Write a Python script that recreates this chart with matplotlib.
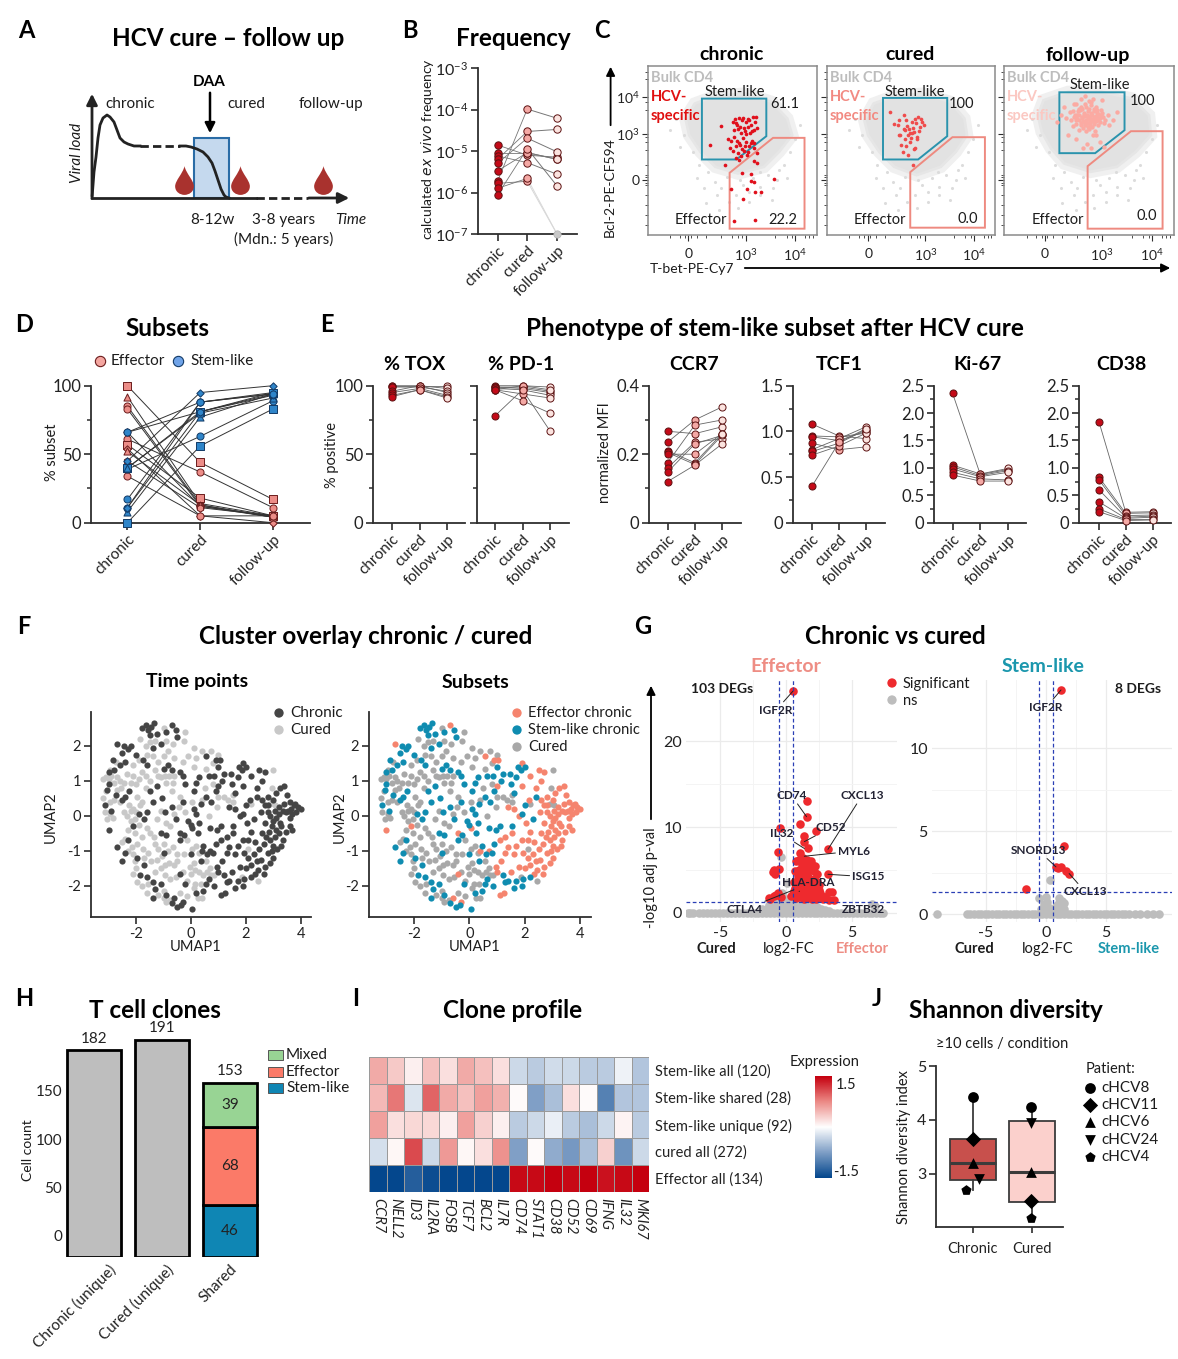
import numpy as np
import matplotlib
matplotlib.use('Agg')
import matplotlib.pyplot as plt
from matplotlib.colors import LinearSegmentedColormap
from matplotlib.patches import Polygon, Rectangle
from matplotlib.path import Path

plt.rcParams['font.family'] = ['Lato', 'DejaVu Sans']
plt.rcParams['mathtext.default'] = 'regular'
plt.rcParams['axes.unicode_minus'] = False

W, H = 1178, 1359
TITLE = 17.5
SUB = 15
DARK = '#2e2e2e'

# A - schematic, in time / load units of the sketch
load_x1 = [92, 93, 94, 96, 98, 100, 103, 107, 110, 114, 117, 120, 124, 128, 134, 140]
load_y1 = [198, 185, 172, 157, 138, 125, 118, 115, 117, 122, 130, 138, 142, 144, 146, 146]
load_x2 = [180, 186, 191, 197, 203, 208, 212, 215, 218, 221, 224, 226, 229]
load_y2 = [146, 146, 147, 149, 152, 157, 163, 171, 180, 189, 195, 197, 198]
drop_x = [184, 240, 323]

# B
freq_chronic = [-4.855, -5.04, -5.12, -5.2, -5.3, -5.48, -5.73, -5.78, -5.9, -6.06]
freq_cured = [-5.1, -5.04, -5.28, -4.53, -4.69, -5.04, -3.99, -5.73, -5.66, -4.94]
freq_followup = [-5.15, -5.2, -5.56, -4.48, -5.02, -5.2, -4.21, -7.0, -7.0, -5.84]

# C - flow plots, in instrument channels
stem_gates = [[(144, 410), (316, 410), (316, 297), (236, 227), (144, 227)],
              [(150, 412), (322, 412), (322, 297), (244, 227), (150, 227)],
              [(147, 429), (320, 429), (320, 315), (242, 246), (147, 246)]]
eff_gates = [[(218, 187), (334, 292), (418, 292), (418, 19), (218, 19)],
             [(223, 189), (336, 294), (423, 294), (423, 22), (223, 22)],
             [(222, 207), (337, 312), (421, 312), (421, 19), (222, 19)]]
clouds = [[(100, 350), (125, 395), (180, 418), (260, 425), (330, 400), (372, 350), (385, 300),
           (350, 250), (310, 205), (240, 185), (180, 205), (140, 250), (110, 300)],
          [(100, 345), (125, 395), (180, 418), (260, 425), (330, 400), (368, 350), (375, 300),
           (345, 250), (305, 205), (240, 180), (180, 205), (140, 250), (110, 300)],
          [(90, 360), (105, 405), (170, 430), (260, 430), (340, 410), (385, 360), (390, 300),
           (350, 250), (300, 205), (230, 190), (160, 215), (125, 260), (100, 310)]]
stray_x = [75, 95, 120, 135, 160, 178, 195, 210, 235, 255, 280, 300, 320, 345, 362, 378, 392, 405,
           130, 150, 185, 215, 245, 270, 300, 335, 350, 370, 155, 190, 240, 330, 270, 298, 60, 85]
stray_y = [350, 300, 250, 210, 190, 160, 140, 175, 120, 150, 170, 145, 180, 165, 210, 250, 290, 330,
           170, 140, 120, 100, 165, 130, 120, 140, 195, 170, 95, 75, 80, 105, 100, 190, 315, 265]
red1_x = [226, 232, 238, 244, 250, 256, 262, 268, 274, 280, 286, 292, 230, 240, 248, 258, 266, 272,
          282, 236, 246, 254, 262, 270, 278, 288, 196, 166, 214, 222, 230, 238, 246, 254, 262, 270,
          278, 284, 218, 226, 234, 242, 250, 258, 266, 274, 282, 240, 248, 256, 264, 236, 244,
          250, 276, 283, 291, 291, 336, 221, 264, 283, 276, 286, 301, 254, 231, 286, 206]
red1_y = [340, 348, 330, 352, 345, 322, 340, 350, 330, 356, 340, 322, 316, 320, 306, 314, 326, 308,
          316, 336, 326, 352, 305, 345, 312, 356, 327, 272, 290, 282, 296, 284, 272, 292, 280, 268,
          284, 276, 262, 252, 268, 276, 260, 268, 248, 276, 262, 246, 236, 252, 240, 232, 226,
          187, 183, 222, 245, 215, 168, 137, 137, 160, 163, 130, 130, 107, 43, 45, 210]
red2_x = [168, 180, 190, 196, 205, 212, 220, 228, 236, 244, 252, 260, 205, 214, 222, 230, 238, 246, 254,
          198, 208, 216, 226, 234, 242, 250, 192, 204, 212, 222, 232, 240, 218, 228, 236, 230, 194, 208]
red2_y = [370, 335, 330, 300, 360, 345, 320, 340, 350, 356, 348, 330, 320, 328, 308, 322, 336, 312, 340,
          272, 290, 300, 292, 310, 296, 325, 345, 250, 268, 280, 260, 290, 240, 308, 262, 210, 300, 315]
red3_x = [140, 160, 175, 185, 190, 195, 200, 205, 208, 212, 215, 218, 220, 222, 225, 228, 230, 232, 235,
          238, 240, 242, 245, 248, 250, 255, 258, 262, 268, 275, 165, 178, 188, 196, 204, 210, 216, 222, 228,
          234, 240, 246, 252, 258, 182, 190, 198, 206, 214, 220, 226, 232, 238, 244, 250, 200, 210, 218, 226,
          234, 242, 205, 215, 225, 235, 190, 220, 245, 170, 255, 280, 290, 260, 230, 190, 150, 210, 235, 265, 300,
          186, 194, 202, 212, 224, 236, 248, 260, 184, 192, 204, 214, 228, 240, 254, 266, 198, 208, 218, 230, 244]
red3_y = [340, 385, 370, 395, 345, 360, 380, 330, 352, 368, 395, 345, 360, 325, 380, 340, 362, 400, 350,
          372, 335, 355, 385, 345, 365, 340, 375, 355, 345, 360, 352, 345, 362, 372, 385, 342, 358, 372, 348,
          362, 350, 368, 352, 362, 328, 335, 345, 355, 330, 338, 355, 368, 340, 358, 330, 315, 322, 312, 318,
          325, 312, 408, 418, 402, 410, 290, 275, 300, 300, 280, 330, 345, 405, 262, 395, 360, 262, 300, 265, 370,
          354, 348, 376, 362, 350, 344, 376, 368, 372, 358, 338, 336, 332, 378, 352, 336, 362, 378, 386, 390, 342]
flow_pct_stem = ['61.1', '100', '100']
flow_pct_eff = ['22.2', '0.0', '0.0']

# D
subset_cats = ['chronic', 'cured', 'follow-up']
subset_markers = ['s', '^', 'o', 'o', 'D', 'o', 's', 'D', '^', 'h', 'o']
eff_chronic = [100, 92, 85, 83, 66, 61, 57, 54, 52, 45, 34]
eff_cured = [44, 14, 13, 12, 12, 37, 18, 5, 13, 11, 5]
eff_fu = [17, 5, 4, 4, 5, 11, 5, 0, 4, 5, 5]
stem_chronic = [0, 8, 11, 17, 11, 39, 40, 45, 40, 66, 66]
stem_cured = [56, 77, 81, 88, 88, 63, 81, 95, 80, 81, 88]
stem_fu = [83, 94, 94, 94, 95, 89, 95, 100, 91, 93, 94]

# E
tox_vals = [[100, 100, 100], [100, 100, 98], [99, 99, 96], [96, 100, 95], [95, 98, 93], [93, 97, 92], [92, 97, 91]]
pd1_vals = [[100, 100, 99], [99, 99, 96], [99, 98, 95], [98, 97, 93], [97, 94, 91], [97, 100, 97], [97, 89, 80], [78, 97, 67]]
ccr7_vals = [[.267, .26, .28], [.235, .3, .338], [.21, .175, .26], [.205, .17, .255], [.175, .285, .3],
             [.16, .235, .245], [.148, .23, .255], [.12, .168, .23], [.2, .2, .26]]
tcf1_vals = [[1.08, .95, .92], [.95, .94, .98], [.94, .9, 1.0], [.87, .8, .83], [.8, .92, 1.05], [.78, .87, 1.02],
             [.74, .84, .98], [.4, .88, 1.03]]
ki67_vals = [[2.36, .88, .97], [1.05, .89, .99], [1.02, .86, .95], [.98, .84, .92], [.92, .8, .78], [.87, .76, .76]]
cd38_vals = [[1.84, .19, .2], [.83, .17, .18], [.78, .13, .14], [.6, .1, .12], [.38, .08, .1], [.25, .06, .06], [.2, .04, .05]]

# F
eff_umap = [(3.9, .25), (4, .2), (3.85, .1), (3.75, .3), (3.65, .2), (3.55, .15), (3.45, .1), (3.35, .15), (3.2, .05),
            (3.1, -.05), (3, -.15), (2.95, -.3), (3.1, -.4), (3.2, -.5), (3.05, -.6), (2.9, -.7), (3, -.85), (3.15, -.95),
            (3.3, -.85), (3.35, -.7), (3.45, -.45), (3.6, -.3), (3.3, -.3), (2.8, .1), (2.7, .3), (2.6, .45), (2.8, .55),
            (3, .45), (3.1, .65), (3.25, .8), (3.4, .85), (2.6, 1), (2.7, 1.25), (2.5, 1.3), (2.2, 1.15), (1.9, .85), (2.4, .8),
            (1.4, .25), (1.6, .2), (1.8, 0), (2.05, -.2), (1.55, -.5), (1.3, -.6), (1.1, -.7), (1.9, -.7), (2.1, -.7),
            (2.35, -.75), (2.5, -.95), (2.3, -1.1), (2.4, -1.3), (2.2, -1.4), (2.45, -1.55), (2.7, -1.45), (2.9, -1.35),
            (3, -1.2), (2.8, -1.05), (2, -1.5), (1.8, -1.45), (1.6, -1.1), (1.3, -1.05), (1.15, -1.3), (.95, -1.45), (1, -1.6),
            (1.5, -1.6), (1.1, -2.25), (1.25, -2.2), (.7, -1), (.4, -1), (.05, -.35), (-.4, -.5), (-.4, -1.65), (-2.7, 2.05),
            (-.7, 2.6), (.55, 1.7), (.9, 1.6), (1.05, 1.6), (-3, -.4), (-2.1, -.3), (-.6, -2.35), (-.3, -2.45), (1, .85),
            (1.9, 1.5), (2.8, .3), (3.6, -.05), (3.7, -.4), (2.6, -.5), (2.7, -.2), (1.95, -1.05), (2.2, -.45), (3.5, .6),
            (3.7, .05), (3.8, .35), (3.6, .4), (3.4, .35), (3.2, .25), (3.05, .15), (2.9, 0), (2.85, -.45), (2.75, -.6),
            (2.65, -.8), (2.95, -1), (3.25, -.2), (2.55, -1.25), (2.65, -1.65), (2.35, -1.65), (2.1, -1.2), (1.7, -.85),
            (1.4, -.9), (2.15, .45), (2.55, .1)]
stem_umap = [(-1.8, 2.5), (-1.65, 2.6), (-1.55, 2.45), (-1.45, 2.55), (-1.35, 2.65), (-1.25, 2.35), (-1.5, 2.3), (-.9, 2.4),
             (-.55, 2.45), (-.5, 2.25), (-1.1, 2.05), (-1.4, 1.95), (-2.45, 2), (-2.3, 1.9), (-2.2, 2), (-2.5, 1.8), (-2.4, 1.55),
             (-2.6, 1.45), (-2.8, 1.3), (-3, 1.25), (-3, .9), (-3.05, .75), (-3.15, .3), (-1.75, 1.6), (-1.6, 1.45), (-1, 1.35),
             (-.7, 1.3), (-.4, 1.25), (-.3, 1.15), (-.85, 1.45), (-.2, .9), (.2, .95), (.3, 1.1), (.65, 1.15), (.85, 1.15),
             (1.2, 1.2), (1.45, 1.2), (1.7, 1.1), (1.75, 1.4), (1.85, 1.3), (2, 1.4), (1.15, 1), (1.5, .9), (.1, .7),
             (-1.25, .85), (-1.5, .7), (-1.05, .5), (-1.4, .4), (-2.25, .7), (-2.4, .55), (-2.5, .45), (-1.7, -.1), (-1.6, .1),
             (-1.1, -.5), (-.9, -.55), (-.4, -.7), (.1, .2), (.2, .05), (.3, -.2), (0, -.25), (-.1, -.15), (.7, -.35), (.95, -.4),
             (1.1, -.3), (2, .3), (2.3, -.1), (.45, -.85), (.6, -1.1), (.8, -1.05), (1.2, -1.7), (-2.7, -.9), (-2.3, -.7),
             (-2.5, -1.3), (-1.7, -1.4), (-1.85, -1.7), (-1.6, -1.75), (-1.4, -1.9), (-1.1, -1.95), (-1.3, -2.1), (-1.4, -2.35),
             (-.9, -2.25), (-.7, -2.5), (-.5, -2.6), (-.35, -2.55), (.05, -2.65), (.2, -2.2), (.45, -2.15), (.55, -1.95),
             (.65, -1.8), (1.3, -1.9), (1.4, -1.85), (1.6, -2.05), (1.7, -1.85), (1.95, -1.8), (-.7, .25), (-.55, -.1),
             (-.25, -.55), (.55, .55), (.75, .4), (1.9, .05), (2.4, .55), (-2.9, 0.15), (1.0, 1.4), (.25, -.5),
             (1.6, .65), (.9, .7), (.35, .35), (-.3, .4), (-.95, .1), (-1.9, .05), (-2.75, .6), (-2.85, 1.6), (-2, 1.75),
             (-1.95, -1.2), (-2.4, -1.05), (-1, -1.05), (-.2, -1.95), (0, -1.1), (.35, -1.3), (.9, -.8), (1.55, -.3),
             (1.9, -2), (2.2, -1.75), (.85, -2)]
cured_umap = [(-3.2, 1.05), (-3.1, 1.1), (-3, 1.05), (-2.9, 1.15), (-2.8, .95), (-2.7, 1.1), (-2.6, 1.0), (-3.1, .7), (-3.2, .5),
              (-3.15, .1), (-3.05, -.1), (-2.95, .05), (-2.85, -.05), (-2.6, .4), (-2.45, .1), (-2.35, 0), (-2.2, .15), (-2.1, .2),
              (-2.25, .3), (-2, .1), (-2.35, 1.2), (-2.2, .95), (-2.1, 1.15), (-2, .9), (-1.9, 1.05), (-1.8, 1.25), (-1.65, 1.15),
              (-2.1, 1.45), (-1.9, 1.6), (-1.6, 1.75), (-1.4, 1.7), (-1.3, 1.3), (-1.2, 1.15), (-1.1, 1.1), (-.95, 1.15), (-.8, 1.15),
              (-.6, 1.15), (-2.3, -.4), (-2.4, -.65), (-2.5, -.75), (-2.3, -1), (-2.15, -.9), (-2.1, -1.1), (-1.95, -.8), (-1.8, -.6),
              (-1.6, -.35), (-1.5, -.5), (-1.35, -.6), (-1.3, -.8), (-1.2, -.95), (-1, -.8), (-.85, -1), (-.65, -.9), (-.5, -1.1),
              (-2.05, -1.3), (-2.1, -1.65), (-1.95, -1.9), (-1.8, -2), (-1.6, -2.2), (-1.3, -1.6), (-1.1, -1.5), (-.95, -1.4),
              (-.8, -1.35), (-.6, -1.4), (-.5, -1.3), (-.75, -1.8), (-.55, -1.75), (-1, -2.35), (-.9, -2.45), (-.75, -2.4),
              (-1.2, -2.25), (-.4, -2.2), (.25, -2.35), (.4, -2.35), (.6, -1.6), (.45, -1.7), (.7, -1.5), (.75, -1.7), (.85, -1.7),
              (.3, -1.6), (.1, -1.35), (.3, -1.05), (.2, -.85), (-1.5, 2.1), (-1.3, 2.15), (-1, 2.5), (-.9, 2.15), (-.65, 2.05),
              (-.25, 2.15), (.1, 1.95), (.4, 1.85), (-.2, 2.4), (-1.65, 2.0), (-1.85, 2.2), (-.6, 1.65), (-.3, 1.55), (.1, 1.4),
              (.55, 1.35), (.8, 1.5), (.75, 1.85), (1.0, 1.75), (1.55, .6), (1.2, .55), (1.0, .55), (.95, .25), (.65, 0), (.4, .45),
              (.05, .4), (-.2, .1), (-.45, .25), (-1.1, .15), (-1.25, -.1), (-1.8, .4), (-1.65, .8), (-1.5, 1.0), (-.7, .7), (-.4, .55),
              (2.2, .35), (2.95, .8), (2.9, .35), (3.05, .3), (3, 1.3), (2.45, -1.85), (2.1, -.95), (1.85, -1.75), (-2.95, .4), (-2.8, .45),
              (.05, -.95), (-.15, -.7), (-.05, -1.45), (-.25, -1.1), (.15, -1.95), (.35, -1.95), (.55, -1.3),
              (-2.7, .75), (-2.55, .8), (-2.45, .95), (-1.95, .55), (-1.85, .3), (-2.05, -.1), (-2.2, -.15), (-2.05, -.5),
              (-1.9, -.25), (-1.75, -.95), (-1.55, -1.05), (-1.7, -1.2), (-1.45, -1.3), (-1.25, -1.25), (-1.05, -1.15),
              (-.9, -.2), (-.75, -.3), (-.6, .05), (-.9, .95), (-.65, .95), (-1.2, 1.55), (-1, 1.7), (-.85, 1.85), (-2.95, 1.3),
              (-2.75, 1.55), (-.3, -1.6), (-.15, -1.85), (0, -1.65), (.15, -1.55), (.1, -2.05), (-.15, -2.3), (-1, -2.15),
              (-1.55, -1.95), (-2, -1.5), (-.95, -1.7), (1.35, .45), (1.55, .4), (.8, .9), (.5, .8), (-.1, 1.7), (.2, 1.65)]
subset_labels = ['Effector chronic', 'Stem-like chronic', 'Cured']

# G
grey_zero_left = [-7.5, -7.3, -7.1, -6.6, -6.3, -6, -5.7, -5.4, -5.1, -4.8, -4.5, -4.2, -3.9, -3.6, -3.3, -3, -2.7, -2.4, -2.1,
                  -1.8, -1.5, -1.2, -.9, -.6, -.3, 0, .3, .6, .9, 1.2, 1.5, 1.8, 2.1, 2.4, 2.7, 3, 3.3, 3.6, 3.9, 4.2,
                  4.5, 4.8, 5.1, 5.4, 5.7, 6, 6.3, 6.6, 6.9, 7.2, 7.4]
grey_mound_x = [-2, -1.7, -1.4, -1.2, -1, -.8, -.6, -.4, -.2, 0, .2, .4, .6, .8, 1, 1.2, 1.5, 1.8, 2.1, 2.4, 2.7, 3, 3.3,
                -1.5, -1, -.5, 0, .3, .6, 1, 1.5, 2, 2.5, 3, -.3, .1, -.4, 6.8, 6.6,
                -1.8, -1.3, -.9, -.7, -.3, .1, .5, .9, 1.3, 1.7, 2.2, 2.6, -1.1, -.6, -.1, .4, .8, 1.4, 1.9, 2.3, 2.9]
grey_mound_y = [.2, .4, .6, .8, 1, 1.2, 1.4, 1.6, 1.7, 1.6, 1.5, 1.5, 1.4, 1.3, 1.3, 1.2, 1.1, 1, .9, .7, .5, .4, .2,
                .2, .4, .7, .8, .9, .8, .7, .5, .4, .3, .2, 2.3, 3.5, 6.5, .8, 1.0,
                .5, .9, 1.1, .9, 1.2, 1.2, 1.1, 1, .9, .8, .6, .4, .3, .3, .4, .4, .4, .3, .2, .2, .1]
sig_left_x = [.53, 1.57, 1.57, 1.1, 2.3, -.48, 1.4, 1.4, 3.2, -.6, 1.65, 1.1, -.95, -.85, -1, -.55, 3.2, 2.4, 2.2, 1.9, 1.6, 1.3, 1, .8,
              1.2, 1.5, 1.8, 2.1, 1.3, 1.6, 1, .7, 1.2, 1.5, 1.8, 2.2, 2.5, 1.4, 1.1, .8, .6, 1.7, 2, 2.3, 2.6, 2.9, 3.3, 3.7,
              1, 1.3, 1.6, 1.9, 2.2, .8, .5, -.6, -.8, -1.2, -.4, 3.3, 2.8, .9, 1.2, 1.5,
              .6, .9, 1.2, 1.5, 1.8, 2.1, 2.4, .7, 1, 1.3, 1.6, 1.9, 2.2, 2.5, .4, .8, 1.1, 1.4, 1.7, 2, 2.3, .9, 1.3, 1.7, 2.1,
              3.5, 3, -.9, -1.3, 1.2, 1.6, 2]
sig_left_y = [25.8, 13, 11.2, 10.4, 9.5, 9.9, 9, 8.3, 7.4, 7.1, 7.5, 7, 5, 4.5, 4.8, 5.1, 4.5, 4.5, 5.5, 6, 6.2, 6.4, 6.2, 6,
              5.6, 5.2, 5, 4.9, 4.8, 4.3, 5, 4.9, 3.8, 3.5, 3.4, 3.2, 3.2, 2.9, 2.8, 2.7, 2.5, 2.6, 2.4, 2.5, 2.3, 1.9, 2.4, 1.5,
              2.2, 2.1, 2.0, 1.9, 1.8, 2.0, 2.2, 2.3, 2.1, 1.6, 1.8, 1.5, 1.6, 3.2, 3.0, 2.7,
              3.6, 3.4, 3.9, 3.8, 3.7, 3.4, 3.6, 2.9, 3.1, 3.2, 3, 2.9, 2.8, 2.7, 2, 1.7, 1.8, 1.6, 1.7, 1.6, 1.6, 4.3, 4.1, 4.2, 3.9,
              2.4, 1.8, 2, 1.7, 5.9, 5.8, 5.6]
left_labels = ['IGF2R', 'CD74', 'CXCL13', 'CD52', 'IL32', 'MYL6', 'ISG15', 'HLA-DRA', 'CTLA4', 'ZBTB32']
left_label_x = [-.75, .43, 5.8, 3.44, -.35, 5.2, 6.3, 1.7, -3.2, 5.9]
left_label_y = [23.6, 13.65, 13.65, 9.94, 9.2, 7.2, 4.2, 3.5, .4, .4]
left_target_x = [.53, 1.57, 3.2, 1.4, 1.4, 1.4, 3.2, 1, .6, 5.9]
left_target_y = [25.8, 11.2, 7.4, 8.3, 7.5, 6.6, 4.5, 2.5, 2.7, .4]
grey_zero_right = [-6.6, -6.3, -6, -5.7, -5.4, -5.1, -4.8, -4.5, -4.2, -3.9, -3.6, -3.3, -3, -2.7, -2.4, -2.1, -1.8, -1.5, -1.2, -.9,
                   -.6, -.3, 0, .3, .6, .9, 1.2, 1.5, 1.8, 2.1, 2.4, 2.7, 3, 3.3, 3.6, 3.9, 4.2, 4.5, 4.8, 5.1, 5.4, 5.7, 6, 6.3,
                   6.6, 6.9, 7.4, 7.8, 8.4, 8.9, 9.4, -9.1]
grey_mound_rx = [.3, -.6, 0, -.2, .1, -.1, .2, -.4, 1.1, 1.3, 1.5, .8, 1, .6, 1.2, 1.5]
grey_mound_ry = [2.08, .94, 1, .6, .7, .4, .4, .3, .94, .8, .64, .5, .6, .3, .3, .3]
sig_right_x = [1.25, 1.5, .83, 1.25, 1.64, 1.93, -1.64, 1.0]
sig_right_y = [13.5, 4.1, 2.84, 2.84, 2.6, 2.44, 1.52, 2.8]
right_labels = ['IGF2R', 'SNORD13', 'CXCL13']
right_label_x = [0, -.65, 3.27]
right_label_y = [12.44, 3.84, 1.34]
right_target_x = [1.25, .83, 1.93]
right_target_y = [13.5, 2.84, 2.44]

# H
clone_cats = ['Chronic (unique)', 'Cured (unique)', 'Shared']
clone_totals = [182, 191, 153]
shared_stem = 46
shared_eff = 68
shared_mixed = 39

# I
genes = ['CCR7', 'NELL2', 'ID3', 'IL2RA', 'FOSB', 'TCF7', 'BCL2', 'IL7R', 'CD74', 'STAT1', 'CD38', 'CD52', 'CD69', 'IFNG', 'IL32', 'MKI67']
clone_rows = ['Stem-like all (120)', 'Stem-like shared (28)', 'Stem-like unique (92)', 'cured all (272)', 'Effector all (134)']
heat_stem_all = [.55, .35, .1, .4, .2, .55, .4, .2, -.3, -.4, -.28, -.3, -.4, -.4, -.1, -.45]
heat_stem_shared = [.45, .85, -.2, .95, .55, .4, .6, .5, .03, -.75, -.5, .2, .03, -1, -.45, -.45]
heat_stem_unique = [.6, .2, .25, .25, .1, .6, .3, .1, -.4, -.3, -.12, -.4, -.5, -.3, .08, -.4]
heat_cured = [-.25, .05, 1.1, -.3, .65, .05, .2, .7, -.75, .03, -.65, -.8, -.5, .3, -.85, -.3]
heat_eff = [-1.5, -1.5, -1.3, -1.45, -1.5, -1.5, -1.5, -1.5, 1.45, 1.45, 1.5, 1.45, 1.5, 1.4, 1.45, 1.5]

# J
patients = ['cHCV8', 'cHCV11', 'cHCV6', 'cHCV24', 'cHCV4']
patient_markers = ['o', 'D', '^', 'v', 'p']
shannon_chronic = [4.43, 3.65, 3.2, 2.91, 2.69]
shannon_cured = [4.23, 2.5, 3.04, 3.95, 2.17]
jitter_chronic = [0, 0, 0, .1, -.11]


def ax_px(l, t, r, b, **kw):
    return fig.add_axes([l / W, 1 - b / H, (r - l) / W, (b - t) / H], **kw)


def style_axis(ax, ticksize=12):
    for s in ['top', 'right']:
        ax.spines[s].set_visible(False)
    for s in ['left', 'bottom']:
        ax.spines[s].set_linewidth(1.3)
        ax.spines[s].set_color(DARK)
    ax.tick_params(width=1.2, length=5, color=DARK, labelcolor='#222222', labelsize=ticksize, pad=2)
    ax.tick_params(which='minor', width=1.1, length=3, color=DARK)


def cat_labels(ax, cats=subset_cats, size=11):
    ax.set_xticks(range(len(cats)))
    ax.set_xticklabels(cats, rotation=45, ha='right', rotation_mode='anchor', fontsize=size, color='#222222')


def paired_panel(rect, rows, ylim, ticks, labels, minor, cats_x):
    ax = ax_px(*rect)
    step = (cats_x[2] - cats_x[0]) / 2
    ax.set_xlim((rect[0] - cats_x[0]) / step, (rect[2] - cats_x[0]) / step)
    ax.set_ylim(*ylim)
    style_axis(ax)
    vals = np.array(rows)
    for row in vals:
        ax.plot([0, 1, 2], row, color='#666666', lw=.6, zorder=2, clip_on=False)
    face = ['#c40a18', '#f4a9a5', '#fbe3df']
    for c in range(3):
        ax.scatter([c] * len(vals), vals[:, c], s=26, color=face[c], edgecolor='#5c1212', lw=.7, zorder=3, clip_on=False)
    ax.set_yticks(ticks)
    ax.set_yticklabels(labels)
    ax.set_yticks(minor, minor=True)
    cat_labels(ax)
    return ax


fig = plt.figure(figsize=(W / 100, H / 100), dpi=100)
bg = fig.add_axes([0, 0, 1, 1], zorder=10)
bg.set_xlim(0, W)
bg.set_ylim(H, 0)
bg.axis('off')
bg.patch.set_alpha(0)


def T(x, y, s, size=11, ha='center', va='center', **kw):
    kw.setdefault('color', '#1c1c1c')
    bg.text(x, y, s, fontsize=size, ha=ha, va=va, **kw)


for lab, x, y in [('A', 26, 31), ('B', 410, 31), ('C', 602, 31), ('D', 24, 324), ('E', 327, 324), ('F', 24, 627),
                  ('G', 643, 627), ('H', 24, 998), ('I', 356, 998), ('J', 877, 998)]:
    T(x, y, lab, size=17, weight='bold', color='black')

for x, y, s in [(228, 38, 'HCV cure – follow up'), (513.6, 38, 'Frequency'), (167, 328, 'Subsets'),
                (775, 329, 'Phenotype of stem-like subset after HCV cure'), (366, 637, 'Cluster overlay chronic / cured'),
                (895, 637, 'Chronic vs cured'), (155, 1010, 'T cell clones'), (513, 1010, 'Clone profile'),
                (1006, 1010, 'Shannon diversity')]:
    T(x, y, s, size=TITLE, weight='bold', color='black')

# A
bg.add_patch(Rectangle((194, 138), 35, 60, fc='#c5d9ee', ec='#2a6ca6', lw=1.5, zorder=1))
bg.plot(load_x1, load_y1, color='#222222', lw=2, solid_joinstyle='round', zorder=3)
bg.plot([140, 180], [146, 146], color='#222222', lw=2, ls=(0, (3, 1.5)), zorder=3)
bg.plot(load_x2, load_y2, color='#222222', lw=2, solid_joinstyle='round', zorder=3)
bg.plot([92, 256], [198, 198], color='#222222', lw=2, zorder=3)
bg.plot([256, 308], [198, 198], color='#222222', lw=2, ls=(0, (3, 1.5)), zorder=3)
bg.annotate('', xy=(352, 198), xytext=(306, 198), arrowprops=dict(arrowstyle='-|>', color='#222222', lw=2, mutation_scale=16))
bg.annotate('', xy=(92, 91), xytext=(92, 199), arrowprops=dict(arrowstyle='-|>', color='#222222', lw=2, mutation_scale=16))
bg.annotate('', xy=(210, 136), xytext=(210, 90), arrowprops=dict(arrowstyle='-|>', color='black', lw=1.8, mutation_scale=15))
drop = Path([(0, 1), (-.1, .5), (-.65, 0), (-.65, -.4), (-.65, -.8), (-.3, -1), (0, -1), (.3, -1), (.65, -.8), (.65, -.4),
             (.65, 0), (.1, .5), (0, 1)],
            [Path.MOVETO] + [Path.CURVE4] * 12)
bg.scatter(drop_x, [180] * 3, marker=drop, s=430, color='#a9322e', lw=0, zorder=3)
T(209, 82, 'DAA', size=11, weight='bold', color='black')
T(130, 104, 'chronic')
T(246, 104, 'cured')
T(331, 104, 'follow-up')
T(212, 220, '8-12w')
T(284, 220, '3-8 years')
T(351, 220, 'Time', style='italic')
T(284, 239, '(Mdn.: 5 years)')
T(77, 153, 'Viral load', style='italic', rotation=90)

# B
ax = ax_px(478, 68, 577, 234)
ax.set_xlim((478 - 497.5) / 29.75, (577 - 497.5) / 29.75)
ax.set_ylim(-7, -3)
style_axis(ax, 11.5)
for a, b, c in zip(freq_chronic, freq_cured, freq_followup):
    lc = '#d8d8d8' if c == -7 else '#777777'
    ax.plot([0, 1], [a, b], color='#777777', lw=.6, zorder=2)
    ax.plot([1, 2], [b, c], color=lc, lw=.7, zorder=2, clip_on=False)
ax.scatter([0] * 10, freq_chronic, s=28, color='#c40a18', edgecolor='#5c1212', lw=.7, zorder=3)
ax.scatter([1] * 10, freq_cured, s=28, color='#f4a9a5', edgecolor='#5c1212', lw=.7, zorder=3)
fu = np.array(freq_followup)
ax.scatter([2] * int((fu > -7).sum()), fu[fu > -7], s=28, color='#fbe3df', edgecolor='#5c1212', lw=.7, zorder=3)
ax.scatter([2], [-7], s=28, color='#c8c8c8', edgecolor='#b0b0b0', lw=.5, zorder=3, clip_on=False)
ax.set_yticks([-7, -6, -5, -4, -3])
ax.set_yticklabels(['10$^{-7}$', '10$^{-6}$', '10$^{-5}$', '10$^{-4}$', '10$^{-3}$'])
cat_labels(ax)
T(427, 149, 'calculated $\\mathit{ex\\ vivo}$ frequency', size=10, rotation=90)

# C
boxes = [(648, 816.5), (827, 995), (1004, 1173.5)]
xtick_sets = [[108, 261, 393], [111, 263, 393], [109, 260, 392]]
pt_sets = [(red1_x, red1_y, '#e0101c', 7), (red2_x, red2_y, '#ef4b4b', 7), (red3_x, red3_y, '#fbaaa2', 10)]
spec_col = ['#e01010', '#f28a82', '#fbc8c2']
flow_titles = ['chronic', 'cured', 'follow-up']
stem_txt = [(232, 430), (234, 430), (255, 452)]
pct_stem_xy = [(364, 393), (360, 393), (367, 402)]
pct_eff_xy = [(361, 45), (376, 48), (378, 58)]
for i, (l, r) in enumerate(boxes):
    ax = ax_px(l, 66, r, 235)
    ax.set_xlim(0, 450)
    ax.set_ylim(0, 508)
    ax.add_patch(Polygon(clouds[i], closed=True, fc='#eeeeee', ec='#f0f0f0', lw=9, zorder=1))
    ax.add_patch(Polygon(clouds[i], closed=True, fc='#e2e2e2', ec='#e6e6e6', lw=2, zorder=1))
    ax.scatter(stray_x, stray_y, s=5, color='#dcdcdc', lw=0, zorder=1)
    ax.add_patch(Polygon(stem_gates[i], closed=True, fill=False, ec='#2a93ad', lw=1.4, zorder=4))
    ax.add_patch(Polygon(eff_gates[i], closed=True, fill=False, ec='#ee8a80', lw=1.4, zorder=4))
    px, py, col, sz = pt_sets[i]
    ax.scatter(px, py, s=sz, color=col, lw=0, zorder=5)
    for s in ax.spines.values():
        s.set_color('#8a8a8a')
        s.set_linewidth(1.1)
    ax.set_xticks(xtick_sets[i])
    ax.set_xticklabels(['0', '10$^{3}$', '10$^{4}$'], fontsize=10, color='#222222')
    ax.set_xticks([60, 85, 100, 115, 130, 155, 195, 225, 240, 250, 340, 370, 385, 420, 430, 440], minor=True)
    ax.set_yticks([165, 303, 415])
    ax.set_yticklabels(['0', '10$^{3}$', '10$^{4}$'] if i == 0 else [], fontsize=10, color='#222222')
    ax.set_yticks([30, 60, 90, 120, 150, 155, 175, 180, 210, 255, 280, 295, 375, 400, 470, 490], minor=True)
    ax.tick_params(length=4, width=.8, color=DARK, pad=2)
    ax.tick_params(axis='x', pad=5)
    ax.tick_params(which='minor', length=2, width=.6, color=DARK)
    ax.text(8, 473, 'Bulk CD4', fontsize=10.5, weight='bold', color='#bdbdbd', va='center')
    ax.text(8, 415, 'HCV-', fontsize=10.5, weight='bold', color=spec_col[i], va='center', zorder=6)
    ax.text(8, 358, 'specific', fontsize=10.5, weight='bold', color=spec_col[i], va='center', zorder=6)
    ax.text(*stem_txt[i], 'Stem-like', fontsize=10.5, ha='center', va='center', color='#1c1c1c', zorder=6)
    ax.text(*pct_stem_xy[i], flow_pct_stem[i], fontsize=10.5, ha='center', va='center', color='#1c1c1c', zorder=6)
    ax.text(142, 45, 'Effector', fontsize=10.5, ha='center', va='center', color='#1c1c1c', zorder=6)
    ax.text(*pct_eff_xy[i], flow_pct_eff[i], fontsize=10.5, ha='center', va='center', color='#1c1c1c', zorder=6)
    T((l + r) / 2 - .5, 55, flow_titles[i], size=14, weight='bold', color='black')
bg.annotate('', xy=(610.6, 64), xytext=(610.6, 128), arrowprops=dict(arrowstyle='-|>', color='black', lw=1.3, mutation_scale=13))
bg.annotate('', xy=(1173, 268), xytext=(742, 268), arrowprops=dict(arrowstyle='-|>', color='black', lw=1.3, mutation_scale=13))
T(610, 187, 'Bcl-2-PE-CF594', size=10, rotation=90)
T(692, 269, 'T-bet-PE-Cy7', size=10)

# D
ax = ax_px(90.7, 385.7, 310, 522.7)
ax.set_xlim((90.7 - 127.4) / 72.75, (310 - 127.4) / 72.75)
ax.set_ylim(0, 100)
style_axis(ax, 12)
for vals in [(eff_chronic, eff_cured, eff_fu), (stem_chronic, stem_cured, stem_fu)]:
    for a, b, c in zip(*vals):
        ax.plot([0, 1, 2], [a, b, c], color='#333333', lw=.7, zorder=2, clip_on=False)
for vals, fc, ec in [((eff_chronic, eff_cured, eff_fu), '#ec8d88', '#6b1c1c'), ((stem_chronic, stem_cured, stem_fu), '#2f85c9', '#123a66')]:
    for c in range(3):
        for m, v in zip(subset_markers, vals[c]):
            sz = 14 if m == 'D' else 26
            ax.scatter(c, v, marker=m, s=sz, color=fc, edgecolor=ec, lw=.7, zorder=3, clip_on=False)
ax.set_yticks([0, 50, 100])
ax.set_yticks([25, 75], minor=True)
cat_labels(ax)
T(52, 452, '% subset', size=10.5, rotation=90)
bg.scatter([100], [361], s=55, color='#f4a6a0', edgecolor='#6b1c1c', lw=.8)
bg.scatter([178], [361], s=55, color='#6fa3e8', edgecolor='#123a66', lw=.8)
T(111, 361, 'Effector', ha='left')
T(190, 361, 'Stem-like', ha='left')

# E
p100 = [0, 50, 100]
paired_panel((373, 385.7, 465, 522.7), tox_vals, (0, 100), p100, ['0', '50', '100'], [25, 75], (392, 419.5, 447))
ax = paired_panel((476.5, 385.7, 569, 522.7), pd1_vals, (0, 100), p100, ['', '', ''], [25, 75], (495, 522.5, 550))
T(332, 455, '% positive', size=10.5, rotation=90)
T(415, 365, '% TOX', size=SUB - 1, weight='bold', color='black')
T(521, 365, '% PD-1', size=SUB - 1, weight='bold', color='black')
paired_panel((649, 385.7, 741, 522.7), ccr7_vals, (0, .4), [0, .2, .4], ['0', '0.2', '0.4'], [.1, .3], (667.6, 695, 722))
paired_panel((793, 385.7, 885, 522.7), tcf1_vals, (0, 1.5), [0, .5, 1, 1.5], ['0', '0.5', '1.0', '1.5'], [.25, .75, 1.25], (812, 838, 866))
l25 = ['0', '0.5', '1.0', '1.5', '2.0', '2.5']
m25 = [.25, .75, 1.25, 1.75, 2.25]
paired_panel((934, 385.7, 1026, 522.7), ki67_vals, (0, 2.5), [0, .5, 1, 1.5, 2, 2.5], l25, m25, (952.6, 980, 1008))
paired_panel((1079, 385.7, 1171, 522.7), cd38_vals, (0, 2.5), [0, .5, 1, 1.5, 2, 2.5], l25, m25, (1099, 1125.5, 1152.5))
T(605, 453, 'normalized MFI', size=10.5, rotation=90)
for x, s in [(694, 'CCR7'), (839, 'TCF1'), (977, 'Ki-67'), (1121, 'CD38')]:
    T(x, 365, s, size=SUB - 1, weight='bold', color='black')

# F
eff_u, stem_u, cured_u = np.array(eff_umap), np.array(stem_umap), np.array(cured_umap)
chronic_u = np.vstack([eff_u, stem_u])
ax1 = ax_px(90.6, 712, 311, 917)
ax1.set_xlim(-3.66, 4.38)
ax2 = ax_px(368.6, 712, 591, 917)
ax2.set_xlim(-3.64, 4.39)
ax1.scatter(cured_u[:, 0], cured_u[:, 1], s=20, color='#c8c8c8', lw=0)
ax1.scatter(chronic_u[:, 0], chronic_u[:, 1], s=20, color='#454545', lw=0)
ax2.scatter(cured_u[:, 0], cured_u[:, 1], s=20, color='#a8a8a8', lw=0)
ax2.scatter(eff_u[:, 0], eff_u[:, 1], s=20, color='#f5846e', lw=0)
ax2.scatter(stem_u[:, 0], stem_u[:, 1], s=20, color='#0f8cb0', lw=0)
for ax in [ax1, ax2]:
    ax.set_ylim(-2.89, 2.97)
    style_axis(ax, 10.5)
    ax.set_xticks([-2, 0, 2, 4])
    ax.set_yticks([-2, -1, 0, 1, 2])
T(196, 947, 'UMAP1', size=10.5)
T(475, 947, 'UMAP1', size=10.5)
T(51, 817, 'UMAP2', size=10.5, rotation=90)
T(340, 817, 'UMAP2', size=10.5, rotation=90)
T(197, 682, 'Time points', size=SUB - 1, weight='bold', color='black')
T(475, 682, 'Subsets', size=SUB - 1, weight='bold', color='black')
bg.scatter([279, 279], [713, 730], s=45, color=['#454545', '#c8c8c8'], lw=0)
T(290, 713, 'Chronic', ha='left')
T(290, 730, 'Cured', ha='left')
bg.scatter([517] * 3, [713, 730, 747], s=45, color=['#f5846e', '#0f8cb0', '#a8a8a8'], lw=0)
for y, s in zip([713, 730, 747], subset_labels):
    T(528, y, s, ha='left', size=10.5)

# G
def volcano(rect, xlim, ylim, xmajor, ymajor, zero_x, mx, my, sx, sy, vline, hline, labs, lx, ly, tx, ty):
    ax = ax_px(*rect)
    ax.set_xlim(*xlim)
    ax.set_ylim(*ylim)
    ax.set_axisbelow(True)
    ax.grid(which='major', color='#ebebeb', lw=.9)
    ax.grid(which='minor', color='#f4f4f4', lw=.7)
    for s in ax.spines.values():
        s.set_visible(False)
    ax.set_xticks(xmajor)
    ax.set_yticks(ymajor)
    xm = np.array(xmajor)
    ym = np.array(ymajor)
    ax.set_xticks((xm[:-1] + xm[1:]) / 2, minor=True)
    ax.set_yticks((ym[:-1] + ym[1:]) / 2, minor=True)
    ax.tick_params(which='both', length=0, labelsize=11.5, labelcolor='#222222', pad=3)
    ax.scatter(zero_x, [0] * len(zero_x), s=38, color='#bdbdbd', lw=0, zorder=2)
    ax.scatter(mx, my, s=38, color='#bdbdbd', lw=0, zorder=2)
    ax.scatter(sx, sy, s=38, color='#ee2a2e', lw=0, zorder=3)
    for v in [-vline, vline]:
        ax.axvline(v, color='#2a3fb5', lw=.9, ls=(0, (3, 2)), zorder=4)
    ax.axhline(hline, color='#2a3fb5', lw=.9, ls=(0, (3, 2)), zorder=4)
    for s, a, b, c, d in zip(labs, lx, ly, tx, ty):
        ax.annotate(s, xy=(c, d), xytext=(a, b), fontsize=8.5, weight='bold', color='#222233', ha='center', va='center',
                    arrowprops=dict(arrowstyle='-', color='#222222', lw=.7, shrinkA=0, shrinkB=0), zorder=5)
    return ax


volcano((686, 680, 897, 922), (-7.63, 8.47), (-1.05, 27.1), [-5, 0, 5], [0, 10, 20], grey_zero_left, grey_mound_x, grey_mound_y,
        sig_left_x, sig_left_y, .5, 1.3, left_labels, left_label_x, left_label_y, left_target_x, left_target_y)
volcano((932, 680, 1172, 922), (-9.5, 10.5), (-.48, 14.1), [-5, 0, 5], [0, 5, 10], grey_zero_right, grey_mound_rx, grey_mound_ry,
        sig_right_x, sig_right_y, .55, 1.33, right_labels, right_label_x, right_label_y, right_target_x, right_target_y)
T(785.5, 667, 'Effector', size=SUB - 1, weight='bold', color='#ee8d84')
T(1043.5, 667, 'Stem-like', size=SUB - 1, weight='bold', color='#1b97ad')
bg.scatter([892, 892], [683, 700], s=45, color=['#ee2a2e', '#bdbdbd'], lw=0)
T(903, 684, 'Significant', ha='left', size=10.5)
T(903, 701, 'ns', ha='left', size=10.5)
T(722, 689, '103 DEGs', weight='bold', size=10)
T(1138, 689, '8 DEGs', weight='bold', size=10)
bg.annotate('', xy=(651, 683), xytext=(651, 822), arrowprops=dict(arrowstyle='-|>', color='black', lw=1.3, mutation_scale=13))
T(651, 878, '-log10 adj p-val', size=10.5, rotation=90)
T(716, 949, 'Cured', weight='bold', size=10.5)
T(789, 949, 'log2-FC', size=10.5)
T(862, 949, 'Effector', weight='bold', size=10.5, color='#ee8d84')
T(974, 949, 'Cured', weight='bold', size=10.5)
T(1048, 949, 'log2-FC', size=10.5)
T(1129, 949, 'Stem-like', weight='bold', size=10.5, color='#1b97ad')

# H
ax = ax_px(62, 1020, 260, 1257)
ax.set_xlim((62 - 94) / 68, (260 - 94) / 68)
ax.set_ylim(0, 237 / 1.137)
bar_w = 54 / 68
ax.bar([0, 1], clone_totals[:2], width=bar_w, color='#bebebe', edgecolor='black', lw=2)
ax.bar(2, shared_stem, width=bar_w, color='#0f86b4', edgecolor='black', lw=2)
ax.bar(2, shared_eff, bottom=shared_stem, width=bar_w, color='#fb7a68', edgecolor='black', lw=2)
ax.bar(2, shared_mixed, bottom=shared_stem + shared_eff, width=bar_w, color='#98d494', edgecolor='black', lw=2)
for s in ax.spines.values():
    s.set_visible(False)
ax.set_yticks([18.5, 61, 103.7, 146])
ax.set_yticklabels(['0', '50', '100', '150'], fontsize=11, color='#222222')
ax.set_xticks([.22, 1.06, 2.0])
ax.set_xticklabels(clone_cats, rotation=45, ha='right', rotation_mode='anchor', fontsize=11, color='#222222')
ax.tick_params(length=0, pad=4)
ax.tick_params(axis='y', pad=0)
ax.patch.set_alpha(0)
for i, v in enumerate(clone_totals):
    ax.text(i, v + 4, str(v), ha='center', va='bottom', fontsize=11, color='#222222')
for v, base in [(shared_stem, 0), (shared_eff, shared_stem), (shared_mixed, shared_stem + shared_eff)]:
    ax.text(2, base + v / 2, str(v), ha='center', va='center', fontsize=11, color='#222222')
T(28, 1150, 'Cell count', size=10, rotation=90)
for y, c, s in [(1055, '#98d494', 'Mixed'), (1072, '#fb7a68', 'Effector'), (1088, '#0f86b4', 'Stem-like')]:
    bg.add_patch(Rectangle((268, y - 5), 15, 10, fc=c, ec='#555555', lw=.7))
    T(286, y, s, ha='left', size=11)

# I
heat_cmap = LinearSegmentedColormap.from_list('expr', ['#04478d', '#7f9fc6', '#ffffff', '#ec8a86', '#c5000f'])
heat = np.array([heat_stem_all, heat_stem_shared, heat_stem_unique, heat_cured, heat_eff])
ax = ax_px(369.3, 1057, 649.3, 1192)
ax.pcolormesh(heat, cmap=heat_cmap, vmin=-1.5, vmax=1.5, edgecolors='#9a9a9a', linewidth=.7)
ax.set_ylim(5, 0)
ax.set_xticks(np.arange(16) + .5)
ax.set_xticklabels(genes, rotation=-90, style='italic', fontsize=10.5, color='#222222', va='top', ha='center')
ax.yaxis.tick_right()
ax.set_yticks(np.arange(5) + .5)
ax.set_yticklabels(clone_rows, fontsize=10.5, color='#222222')
ax.tick_params(length=0, pad=4)
for s in ax.spines.values():
    s.set_visible(False)
T(790, 1062, 'Expression', ha='left', size=10.5)
cb = ax_px(815, 1076, 832, 1178)
cb.imshow(np.linspace(1.5, -1.5, 200)[:, None], aspect='auto', cmap=heat_cmap, vmin=-1.5, vmax=1.5)
cb.axis('off')
T(836, 1085, '1.5', ha='left', size=10.5)
T(833, 1172, '-1.5', ha='left', size=10.5)

# J
ax = ax_px(936, 1066, 1063, 1227)
ax.set_xlim(-.622, 1.53)
ax.set_ylim(2.01, 5)
style_axis(ax, 11.5)
stats = [dict(med=3.2, q1=2.88, q3=3.65, whislo=2.69, whishi=4.43, fliers=[]),
         dict(med=3.04, q1=2.48, q3=3.98, whislo=2.17, whishi=4.23, fliers=[])]
bp = ax.bxp(stats, positions=[0, 1], widths=.78, patch_artist=True, showcaps=False, showfliers=False,
            medianprops=dict(color='#3b3b3b', lw=2.2), boxprops=dict(edgecolor='#3b3b3b', lw=1.3),
            whiskerprops=dict(color='#3b3b3b', lw=1.3))
bp['boxes'][0].set_facecolor('#c8504c')
bp['boxes'][1].set_facecolor('#fbd0cc')
for m, a, b, j in zip(patient_markers, shannon_chronic, shannon_cured, jitter_chronic):
    ax.scatter(j, a, marker=m, s=60, color='black', lw=0, zorder=5)
    ax.scatter(0.99, b, marker=m, s=60, color='black', lw=0, zorder=5)
ax.set_yticks([3, 4, 5])
ax.set_xticks([0, 1])
ax.set_xticklabels(['Chronic', 'Cured'], fontsize=10.5, color='#222222')
ax.tick_params(axis='x', pad=7, length=4)
T(1002, 1044, '≥10 cells / condition', size=10.5)
T(904, 1147, 'Shannon diversity index', size=10.5, rotation=90)
T(1086, 1069, 'Patient:', ha='left', size=10.5)
for y, m, s in zip([1088, 1105, 1122, 1140, 1157], patient_markers, patients):
    bg.scatter(1090, y, marker=m, s=60, color='black', lw=0)
    T(1101, y, s, ha='left', size=11)

fig.savefig('out.png', dpi=100)
